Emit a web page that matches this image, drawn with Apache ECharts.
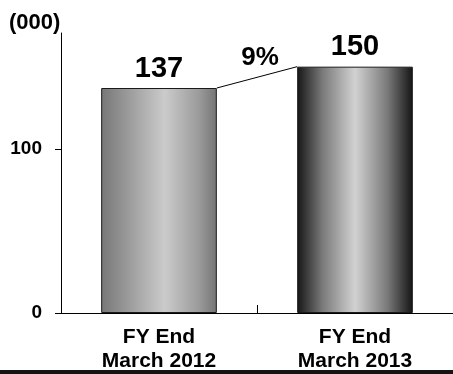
<!DOCTYPE html>
<html>
<head>
<meta charset="utf-8">
<script src="https://cdn.jsdelivr.net/npm/echarts@6/dist/echarts.min.js"></script>
<style>
  html, body { margin: 0; padding: 0; background: #fff; }
  #chart { width: 453px; height: 374px; }
</style>
</head>
<body>
<div id="chart"></div>
<script>
// Fiscal year-end totals, in thousands
const categories = ['FY End\nMarch 2012', 'FY End\nMarch 2013'];
const values = [137, 150];
const growthLabel = '9%';
const yTicks = [0, 100];

const FONT = '"Liberation Sans", Arial, sans-serif';
const BAR_RATIO = 0.59;

// Cylinder-like horizontal shading for each bar
const shades = [
  [
    { offset: 0, color: '#777777' },
    { offset: 0.55, color: '#cbcbcb' },
    { offset: 0.85, color: '#9a9a9a' },
    { offset: 1, color: '#747474' }
  ],
  [
    { offset: 0, color: '#161616' },
    { offset: 0.22, color: '#7a7a7a' },
    { offset: 0.5, color: '#d2d2d2' },
    { offset: 0.78, color: '#7a7a7a' },
    { offset: 1, color: '#141414' }
  ]
];

const barData = values.map((v, i) => ({
  value: v,
  itemStyle: {
    color: new echarts.graphic.LinearGradient(0, 0, 1, 0, shades[i])
  }
}));

const chart = echarts.init(document.getElementById('chart'));
chart.setOption({
  animation: false,
  backgroundColor: '#ffffff',
  title: {
    text: '(000)',
    left: 9,
    top: 12,
    padding: 0,
    textStyle: { fontFamily: FONT, fontWeight: 'bold', fontSize: 22, color: '#000' }
  },
  grid: { left: 61, right: -4, top: 33, bottom: 61, containLabel: false },
  xAxis: {
    type: 'category',
    data: categories,
    axisLine: { lineStyle: { color: '#000', width: 1 } },
    axisTick: { show: true, inside: true, length: 8, lineStyle: { color: '#000' } },
    axisLabel: {
      margin: 12,
      fontFamily: FONT, fontWeight: 'bold', fontSize: 21, lineHeight: 24, color: '#000'
    }
  },
  yAxis: {
    type: 'value',
    min: yTicks[0],
    max: 170.5,
    interval: yTicks[1] - yTicks[0],
    splitLine: { show: false },
    axisLine: { show: true, lineStyle: { color: '#000', width: 1 } },
    axisTick: { show: true, length: 6, lineStyle: { color: '#000' } },
    axisLabel: {
      margin: 19,
      fontFamily: FONT, fontWeight: 'bold', fontSize: 19, color: '#000',
      showMaxLabel: false,
      formatter: v => (yTicks.indexOf(v) >= 0 ? String(v) : '')
    }
  },
  series: [
    {
      type: 'bar',
      data: barData,
      barWidth: (BAR_RATIO * 100) + '%',
      itemStyle: { borderColor: '#1a1a1a', borderWidth: 1 },
      label: {
        show: true,
        position: 'top',
        distance: 5,
        fontFamily: FONT, fontWeight: 'bold', fontSize: 29, color: '#000'
      }
    },
    {
      // Connector between the two bar tops with the growth rate above it
      type: 'custom',
      data: [[0, values[0], 1, values[1]]],
      encode: { x: 0, y: 1 },
      z: 5,
      renderItem: function (params, api) {
        const a = api.coord([api.value(0), api.value(1)]);
        const b = api.coord([api.value(2), api.value(3)]);
        const half = api.size([1, 0])[0] * BAR_RATIO / 2;
        const x1 = a[0] + half, y1 = a[1];
        const x2 = b[0] - half, y2 = b[1];
        return {
          type: 'group',
          children: [
            {
              type: 'line',
              shape: { x1: x1, y1: y1, x2: x2, y2: y2 },
              style: { stroke: '#000', lineWidth: 1 }
            },
            {
              type: 'text',
              x: (x1 + x2) / 2 + 3,
              y: (y1 + y2) / 2 - 20,
              style: {
                text: growthLabel,
                font: 'bold 26px ' + FONT,
                fill: '#000',
                align: 'center',
                verticalAlign: 'middle'
              }
            }
          ]
        };
      }
    }
  ],
  graphic: [
    {
      type: 'rect',
      left: 0,
      top: 370,
      shape: { width: 453, height: 4 },
      style: { fill: '#141414' },
      silent: true
    }
  ]
});
</script>
</body>
</html>
